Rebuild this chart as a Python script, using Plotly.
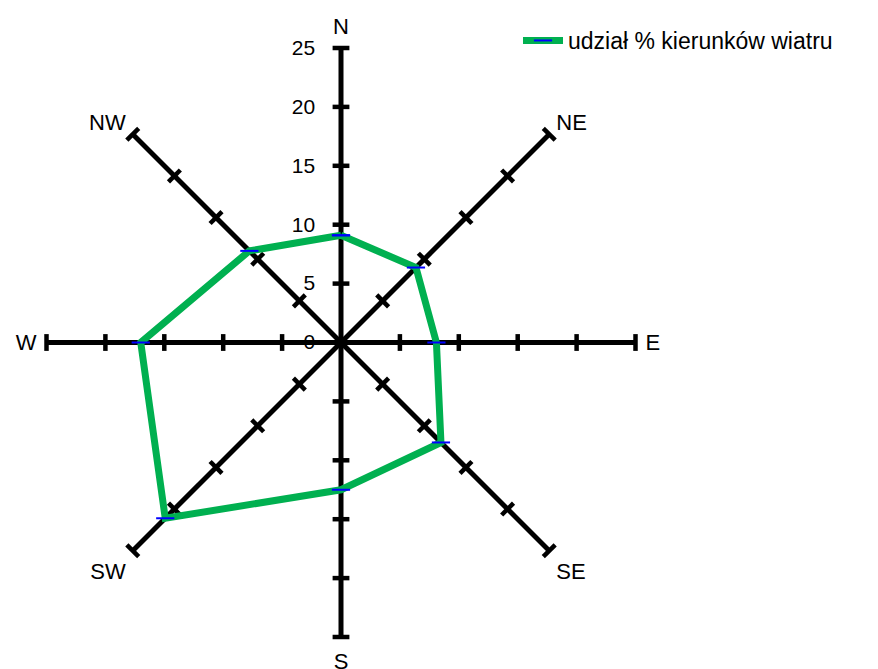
import plotly.graph_objects as go

# wind directions, clockwise from north
directions = ['N', 'NE', 'E', 'SE', 'S', 'SW', 'W', 'NW']
# share of each wind direction, %
shares = [9.1, 9.0, 8.1, 12.0, 12.5, 21.1, 17.0, 11.0]
series_name = 'udział % kierunków wiatru'
radial_ticks = [0, 5, 10, 15, 20, 25]

FONT = 'Liberation Sans, Arial, sans-serif'

# tick marks on every spoke (excel style)
tick_theta, tick_r, tick_angle = [], [], []
for i, d in enumerate(directions):
    for v in radial_ticks[1:]:
        tick_theta.append(d)
        tick_r.append(v)
        tick_angle.append(45 * i)

fig = go.Figure()
fig.add_trace(
    go.Scatterpolar(
        r=tick_r,
        theta=tick_theta,
        mode='markers',
        marker=dict(symbol='line-ew', size=12, angle=tick_angle,
                    line=dict(color='black', width=4.5)),
        hoverinfo='skip',
        showlegend=False,
    )
)
fig.add_trace(
    go.Scatterpolar(
        r=shares + shares[:1],
        theta=directions + directions[:1],
        mode='lines+markers',
        name=series_name,
        line=dict(color='#00B050', width=7),
        marker=dict(symbol='line-ew', size=13, line=dict(color='#0000FF', width=2)),
    )
)

fig.update_layout(
    width=878,
    height=669,
    paper_bgcolor='white',
    plot_bgcolor='white',
    font=dict(family=FONT, color='black', size=20),
    margin=dict(l=0, r=0, t=0, b=0),
    polar=dict(
        domain=dict(x=[38.5 / 878, 627.5 / 878], y=[40 / 669, 629 / 669]),
        bgcolor='white',
        gridshape='linear',
        angularaxis=dict(
            type='category',
            categoryarray=directions,
            rotation=90,
            direction='clockwise',
            showline=False,
            showgrid=True,
            gridcolor='black',
            gridwidth=5,
            ticks='outside',
            ticklen=5,
            tickcolor='rgba(0,0,0,0)',
            tickfont=dict(size=22, family=FONT),
        ),
        radialaxis=dict(
            range=[0, 25],
            angle=90,
            tickvals=radial_ticks,
            showline=False,
            showgrid=False,
            ticks='outside',
            ticklen=18,
            tickcolor='rgba(0,0,0,0)',
            side='counterclockwise',
            tickangle=90,
            tickfont=dict(size=21, family=FONT),
        ),
    ),
    legend=dict(
        x=510 / 878,
        y=1 - 11 / 669,
        xanchor='left',
        yanchor='top',
        font=dict(size=23, family=FONT),
        bgcolor='rgba(0,0,0,0)',
        itemwidth=40,
    ),
)

fig.write_html('out.html')
